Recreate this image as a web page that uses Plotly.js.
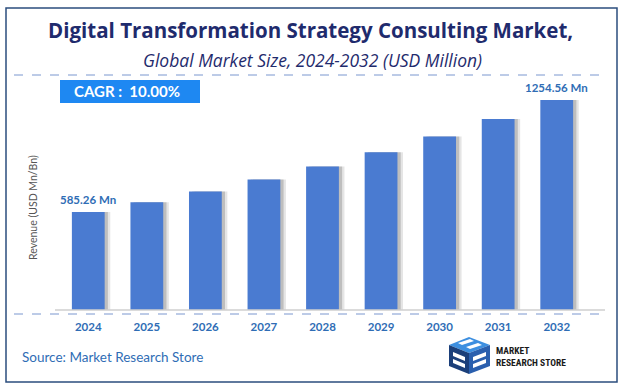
<!DOCTYPE html>
<html><head><meta charset="utf-8">
<script src="https://cdn.plot.ly/plotly-3.0.1.min.js"></script>
<style>html,body{margin:0;padding:0;background:#fff}#chart{width:623px;height:392px}</style>
</head><body><div id="chart"></div>
<script>
const years = ['2024','2025','2026','2027','2028','2029','2030','2031','2032'];
const revenue = [585.26, 643.79, 708.17, 778.98, 856.88, 942.57, 1036.83, 1140.51, 1254.56];
const firstLabel = '585.26 Mn';
const lastLabel = '1254.56 Mn';
const cagrText = 'CAGR :  10.00%';

const W = 623, H = 392;
const M = {l: 59, r: 37, t: 85, b: 82};
const pw = W - M.l - M.r, ph = H - M.t - M.b;
const px = v => (v - M.l) / pw;
const py = v => (H - M.b - v) / ph;

const font = 'Lato, "Open Sans", sans-serif';
const tfont = '"Open Sans", Lato, sans-serif';
const barColor = '#4a7bd1';
const labelColor = '#2f6db5';

const shadow1 = {
  type: 'bar', x: years, y: revenue, width: 0.56, offset: -0.185,
  marker: {color: 'rgba(110,110,110,0.18)', line: {width: 0}},
  hoverinfo: 'skip', showlegend: false
};
const shadow2 = {
  type: 'bar', x: years, y: revenue, width: 0.56, offset: -0.225,
  marker: {color: 'rgba(90,90,90,0.28)', line: {width: 0}},
  hoverinfo: 'skip', showlegend: false
};
const bars = {
  type: 'bar', x: years, y: revenue, width: 0.56, offset: -0.28,
  marker: {color: barColor, line: {width: 0}}, showlegend: false
};

const shapes = [
  {type:'rect', xref:'paper', yref:'paper', x0:px(6), x1:px(617), y0:py(8), y1:py(382), line:{color:'#2b4d7e', width:1.5}, layer:'below'},
  {type:'line', xref:'paper', yref:'paper', x0:px(14), x1:px(607), y0:py(75), y1:py(75), line:{color:'#7b97cf', width:1, dash:'dash'}},
  {type:'line', xref:'paper', yref:'paper', x0:px(14), x1:px(607), y0:py(314), y1:py(314), line:{color:'#7b97cf', width:1, dash:'dash'}},
  {type:'line', xref:'paper', yref:'paper', x0:px(55), x1:px(605), y0:py(310), y1:py(310), line:{color:'#cfcfcf', width:1.5}},
  {type:'rect', xref:'paper', yref:'paper', x0:px(60), x1:px(200), y0:py(80), y1:py(103), fillcolor:'#1e88f2', line:{width:0}},
  // logo icon
  {type:'path', xref:'paper', yref:'paper', path:
    `M ${px(449)} ${py(345)} L ${px(469)} ${py(337)} L ${px(490)} ${py(345)} L ${px(469)} ${py(353)} Z`,
    fillcolor:'#3d8fe0', line:{width:0}},
  {type:'path', xref:'paper', yref:'paper', path:
    `M ${px(449)} ${py(345)} L ${px(469)} ${py(353)} L ${px(469)} ${py(374)} L ${px(449)} ${py(366)} Z`,
    fillcolor:'#1b3f7a', line:{width:0}},
  {type:'path', xref:'paper', yref:'paper', path:
    `M ${px(469)} ${py(353)} L ${px(490)} ${py(345)} L ${px(490)} ${py(366)} L ${px(469)} ${py(374)} Z`,
    fillcolor:'#2a5fae', line:{width:0}},
  {type:'path', xref:'paper', yref:'paper', path:
    `M ${px(458)} ${py(343)} L ${px(470)} ${py(339)} L ${px(474)} ${py(341)} L ${px(462)} ${py(345)} Z M ${px(466)} ${py(347)} L ${px(478)} ${py(343)} L ${px(482)} ${py(345)} L ${px(470)} ${py(349)} Z`,
    fillcolor:'#ffffff', line:{width:0}},
  {type:'path', xref:'paper', yref:'paper', path:
    `M ${px(473)} ${py(357)} L ${px(486)} ${py(352)} L ${px(486)} ${py(356)} L ${px(473)} ${py(361)} Z M ${px(473)} ${py(364)} L ${px(486)} ${py(359)} L ${px(486)} ${py(363)} L ${px(473)} ${py(368)} Z`,
    fillcolor:'#ffffff', line:{width:0}},
  {type:'path', xref:'paper', yref:'paper', path:
    `M ${px(453)} ${py(352)} L ${px(465)} ${py(357)} L ${px(465)} ${py(361)} L ${px(453)} ${py(356)} Z M ${px(453)} ${py(359)} L ${px(465)} ${py(364)} L ${px(465)} ${py(368)} L ${px(453)} ${py(363)} Z`,
    fillcolor:'#ffffff', line:{width:0}}
];

const annotations = [
  {xref:'paper', yref:'paper', x:px(310), y:py(30), text:'<b>Digital Transformation Strategy Consulting Market,</b>', showarrow:false, font:{family:tfont, size:20.5, color:'#1f2b6d'}, xanchor:'center', yanchor:'middle'},
  {xref:'paper', yref:'paper', x:px(312), y:py(60), text:'<i>Global Market Size, 2024-2032 (USD Million)</i>', showarrow:false, font:{family:tfont, size:17.5, color:'#1f2b6d'}, xanchor:'center', yanchor:'middle'},
  {xref:'paper', yref:'paper', x:px(127), y:py(91.5), text:'<b>' + cagrText + '</b>', showarrow:false, font:{family:font, size:15, color:'#ffffff'}, xanchor:'center', yanchor:'middle'},
  {x:0, y:revenue[0], xref:'x', yref:'y', text:'<b>' + firstLabel + '</b>', showarrow:false, yanchor:'bottom', yshift:4, font:{family:font, size:11.5, color:labelColor}},
  {x:years.length-1, y:revenue[revenue.length-1], xref:'x', yref:'y', text:'<b>' + lastLabel + '</b>', showarrow:false, yanchor:'bottom', yshift:4, font:{family:font, size:11.5, color:labelColor}},
  {xref:'paper', yref:'paper', x:px(33), y:py(208), text:'Revenue (USD Mn/Bn)', textangle:-90, showarrow:false, font:{family:font, size:10.5, color:'#555555'}, xanchor:'center', yanchor:'middle'},
  {xref:'paper', yref:'paper', x:px(20), y:py(357), text:'Source: Market Research Store', showarrow:false, font:{family:font, size:13.5, color:'#2f6db5'}, xanchor:'left', yanchor:'middle'},
  {xref:'paper', yref:'paper', x:px(494), y:py(356), text:'<b>MARKET<br>RESEARCH STORE</b>', showarrow:false, align:'left', font:{family:'"Roboto Condensed", Roboto, sans-serif', size:9.5, color:'#1a1a1a'}, xanchor:'left', yanchor:'middle'}
];

const layout = {
  width: W, height: H,
  margin: M,
  paper_bgcolor: '#ffffff', plot_bgcolor: '#ffffff',
  showlegend: false,
  barmode: 'overlay',
  xaxis: {type:'category', range:[-0.5, years.length-0.5], autorange:false, showgrid:false, zeroline:false, showline:false, ticks:'',
    tickfont:{family:font, size:11.5, color:labelColor, weight:'bold'}, ticklabelstandoff: 8},
  yaxis: {range:[0, 1344], autorange:false, showgrid:false, zeroline:false, showline:false, showticklabels:false, ticks:''},
  shapes: shapes,
  annotations: annotations
};

Plotly.newPlot('chart', [shadow1, shadow2, bars], layout, {staticPlot:true, displayModeBar:false});
</script></body></html>
